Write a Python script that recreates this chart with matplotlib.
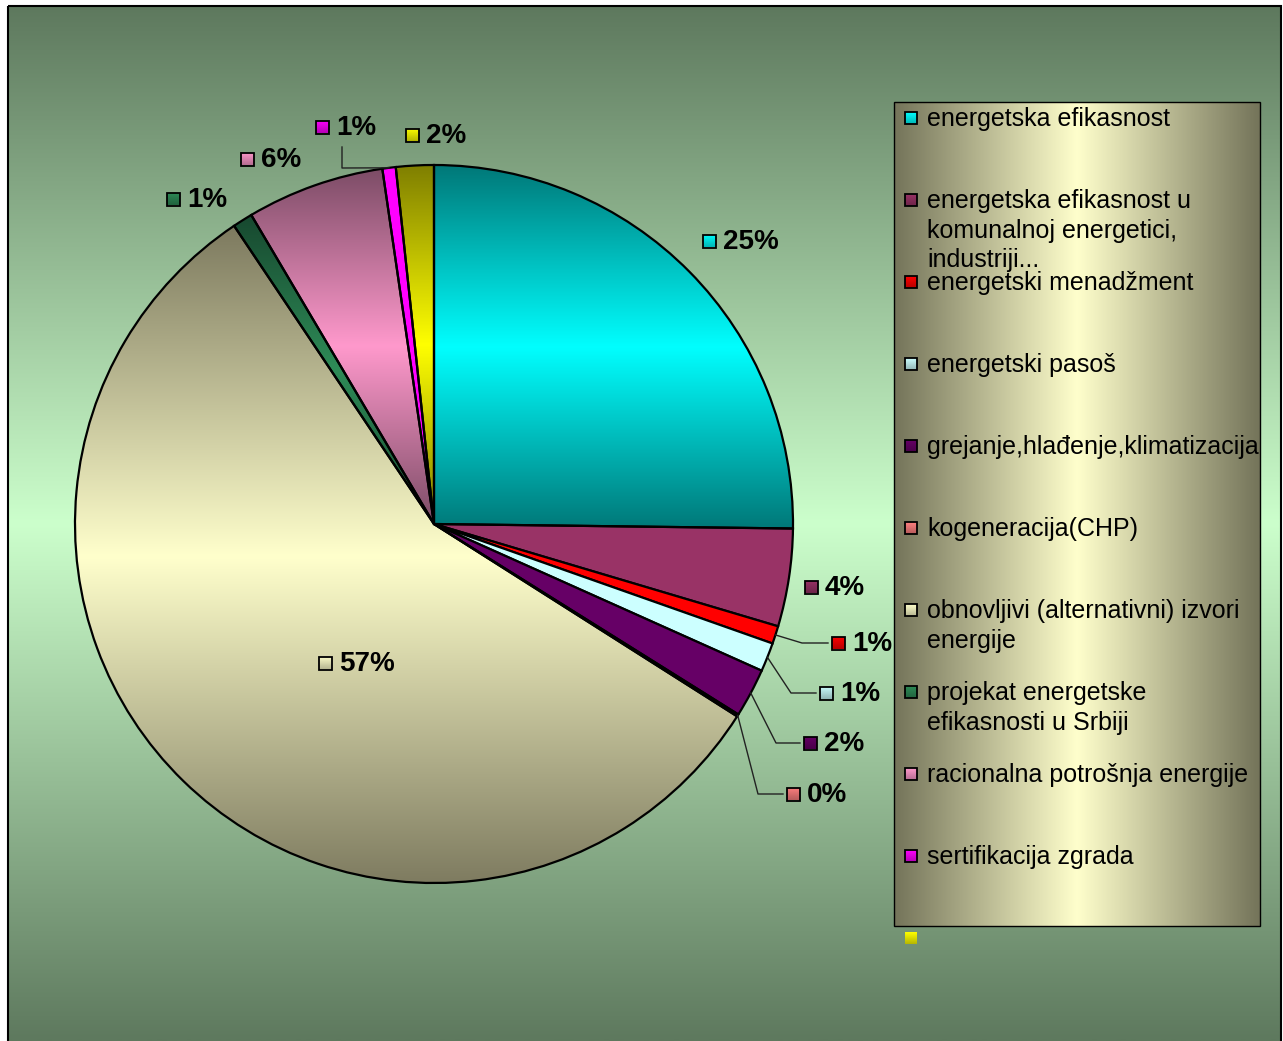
import numpy as np
import matplotlib
matplotlib.use("Agg")
import matplotlib.pyplot as plt
from matplotlib.patches import Rectangle
from matplotlib.colors import to_rgb

W, H = 1283, 1041

# ---- data -------------------------------------------------------------
categories = [
    "energetska efikasnost",
    "energetska efikasnost u\nkomunalnoj energetici,\nindustriji...",
    "energetski menadžment",
    "energetski pasoš",
    "grejanje,hlađenje,klimatizacija",
    "kogeneracija(CHP)",
    "obnovljivi (alternativni) izvori\nenergije",
    "projekat energetske\nefikasnosti u Srbiji",
    "racionalna potrošnja energije",
    "sertifikacija zgrada",
    "",
]
shares = [25.2, 4.4, 0.8, 1.3, 2.2, 0.1, 56.6, 0.9, 6.2, 0.6, 1.7]

slice_colors = ["#00ffff", "#993366", "#ff0000", "#ccffff", "#660066", "#ff8080",
                "#ffffcc", "#2e8b57", "#ff99cc", "#ff00ff", "#ffff00"]
# darker end of the two-tone gradient (None = flat fill)
shade_colors = ["#007878", None, None, None, None, None,
                "#7d7a5f", "#17482f", "#7c4c66", None, "#7f7f00"]

# ---- layout (pixel coords, y down) -----------------------------------
cx, cy, radius = 434, 524, 359
label_pos = [(709, 241), (811, 587), (838, 643), (826, 693), (810, 743), (793, 794),
             (325, 663), (173, 199), (247, 159), (322, 127), (412, 135)]
leaders = {
    2: [(802, 643), (828, 643)],
    3: [(791, 693), (816, 693)],
    4: [(776, 743), (800, 743)],
    5: [(758, 794), (783, 794)],
    9: [(342, 168), (342, 147)],
}
leg_box = (894, 102, 1260, 926)
leg_y0, leg_step = 118, 82

FONT = "Liberation Sans"


def center_gradient(dark, bright, n=256, horizontal=False):
    d = np.array(to_rgb(dark))
    b = np.array(to_rgb(bright))
    t = np.abs(np.linspace(-1, 1, n))[:, None]
    g = b * (1 - t) + d * t
    if horizontal:
        return g[None, :, :]
    return g[:, None, :]


def marker(x, y, size, color, edge="black"):
    # small key square: bright on top, a little darker at the bottom
    dark = tuple(0.72 * c for c in to_rgb(color))
    g = center_gradient(dark, color, n=32)[16:]
    box = Rectangle((x - size / 2, y - size / 2), size, size, facecolor="none",
                    edgecolor=edge, lw=1.3, zorder=7)
    ax.add_patch(box)
    im = ax.imshow(g, extent=(x - size / 2, x + size / 2, y + size / 2, y - size / 2),
                   aspect="auto", zorder=6, interpolation="bilinear")
    im.set_clip_path(box)


fig = plt.figure(figsize=(W / 100, H / 100), dpi=100)
ax = fig.add_axes([0, 0, 1, 1])

# pie (y axis inverted -> startangle -90 with counterclock gives clockwise from top)
wedges, _ = ax.pie(shares, colors=slice_colors, startangle=-90, counterclock=True,
                   center=(cx, cy), radius=radius,
                   wedgeprops=dict(edgecolor="black", linewidth=1.6))
ax.set_xlim(0, W)
ax.set_ylim(H, 0)
ax.set_aspect("auto")
ax.set_axis_off()

# background
ax.imshow(center_gradient("#5e795e", "#ccffcc"), extent=(8, W - 2, H, 6),
          aspect="auto", zorder=0, interpolation="bilinear")
ax.add_patch(Rectangle((8, 6), W - 10, H, fill=False, edgecolor="black", lw=1.5, zorder=1))

for w, col, dark in zip(wedges, slice_colors, shade_colors):
    w.set_zorder(3)
    if dark is None:
        continue
    v = w.get_path().vertices
    x0, y0 = v.min(axis=0)
    x1, y1 = v.max(axis=0)
    im = ax.imshow(center_gradient(dark, col), extent=(x0, x1, y1, y0),
                   aspect="auto", zorder=2, interpolation="bilinear")
    im.set_clip_path(w)
    w.set_facecolor("none")
    w.set_zorder(4)

# data labels
for i, (w, v) in enumerate(zip(wedges, shares)):
    mx, my = label_pos[i]
    marker(mx, my, 13, slice_colors[i])
    ax.text(mx + 14, my + 1, f"{round(v)}%", fontsize=20, fontweight="bold",
            family=FONT, ha="left", va="center", zorder=6)
    if i in leaders:
        ang = np.deg2rad((w.theta1 + w.theta2) / 2)
        sx, sy = cx + radius * np.cos(ang), cy + radius * np.sin(ang)
        pts = [(sx, sy)] + leaders[i]
        ax.plot([p[0] for p in pts], [p[1] for p in pts], color="#222222", lw=1.0, zorder=5)

# legend
lx0, ly0, lx1, ly1 = leg_box
ax.imshow(center_gradient("#74745a", "#ffffcc", horizontal=True),
          extent=(lx0, lx1, ly1, ly0), aspect="auto", zorder=2, interpolation="bilinear")
ax.add_patch(Rectangle((lx0, ly0), lx1 - lx0, ly1 - ly0, fill=False,
                       edgecolor="black", lw=1.0, zorder=3))
for i, name in enumerate(categories):
    y = leg_y0 + i * leg_step
    marker(911, y, 12, slice_colors[i], edge="black" if name else "none")
    if name:
        ax.text(927, y - 11, name, fontsize=18, family=FONT, ha="left", va="top",
                linespacing=1.3, zorder=6)

fig.savefig("out.png", dpi=100)
